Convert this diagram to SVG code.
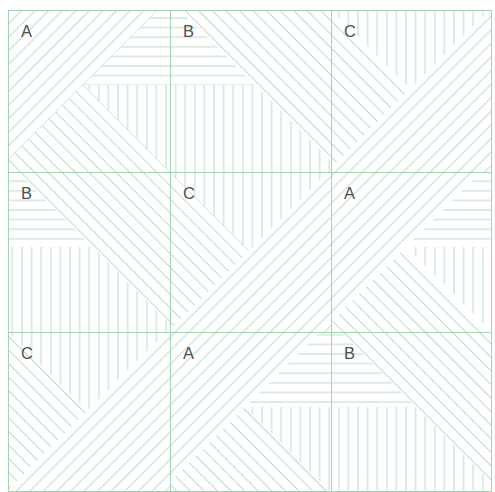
<svg xmlns="http://www.w3.org/2000/svg" width="495" height="492" viewBox="0 0 495 492">
<style>
.hl{stroke:#b6dac2;stroke-width:0.95;fill:none}
.h{fill:url(#ph)}
.v{fill:url(#pv)}
.d1{fill:url(#pd1)}
.d2{fill:url(#pd2)}
.grid line{stroke:#a6d2b4;stroke-width:1}
.lbl{font-family:"Liberation Sans",Arial,sans-serif;font-size:16.5px;fill:#505050}
</style>
<defs>
<pattern id="ph" patternUnits="userSpaceOnUse" x="0" y="13.2" width="9.6" height="9.6"><line class="hl" x1="-1" y1="4.8" x2="10.6" y2="4.8"/></pattern>
<pattern id="pv" patternUnits="userSpaceOnUse" x="-2" y="0" width="9.6" height="9.6"><line class="hl" x1="4.8" y1="-1" x2="4.8" y2="10.6"/></pattern>
<pattern id="pd1" patternUnits="userSpaceOnUse" width="9.6" height="9.6" patternTransform="rotate(45)"><line class="hl" x1="3.6" y1="-1" x2="3.6" y2="10.6"/></pattern>
<pattern id="pd2" patternUnits="userSpaceOnUse" width="9.6" height="9.6" patternTransform="rotate(45)"><line class="hl" x1="-1" y1="1.4" x2="10.6" y2="1.4"/></pattern>
</defs>
<rect width="495" height="492" fill="#ffffff"/>

<g id="tile-A-r1c1">
<polygon class="d1" points="8,10 158,10 8,160"/>
<polygon class="h" points="158,10 170,10 170,85 83,85"/>
<polygon class="v" points="83,85 170,85 170,172"/>
<polygon class="d2" points="8,160 83,85 170,172 8,172"/>
<text class="lbl" x="21" y="37">A</text>
</g>
<g id="tile-B-r1c2">
<polygon class="d2" points="180,10 331,10 331,161"/>
<polygon class="h" points="170,10 180,10 255,85 170,85"/>
<polygon class="v" points="170,85 255,85 331,161 331,172 170,172"/>
<text class="lbl" x="183" y="37">B</text>
</g>
<g id="tile-C-r1c3">
<polygon class="v" points="331,10 489,10 410,89"/>
<polygon class="d2" points="331,10 410,89 331,168"/>
<polygon class="d1" points="489,10 492,10 492,172 331,172 331,168"/>
<text class="lbl" x="344" y="37">C</text>
</g>

<g id="tile-B-r2c1">
<polygon class="d2" points="18,172 170,172 170,324"/>
<polygon class="h" points="8,172 18,172 93,247 8,247"/>
<polygon class="v" points="8,247 93,247 170,324 170,332 8,332"/>
<text class="lbl" x="21" y="199">B</text>
</g>
<g id="tile-C-r2c2">
<polygon class="v" points="170,172 328,172 249,251"/>
<polygon class="d2" points="170,172 249,251 170,330"/>
<polygon class="d1" points="328,172 331,172 331,332 170,332 170,330"/>
<text class="lbl" x="183" y="199">C</text>
</g>
<g id="tile-A-r2c3">
<polygon class="d1" points="331,172 481,172 331,322"/>
<polygon class="h" points="481,172 492,172 492,247 406,247"/>
<polygon class="v" points="406,247 492,247 492,332"/>
<polygon class="d2" points="331,322 406,247 492,332 331,332"/>
<text class="lbl" x="344" y="199">A</text>
</g>

<g id="tile-C-r3c1">
<polygon class="v" points="8,332 166,332 87,411"/>
<polygon class="d2" points="8,332 87,411 8,490"/>
<polygon class="d1" points="166,332 170,332 170,493 8,493 8,490"/>
<text class="lbl" x="21" y="359">C</text>
</g>
<g id="tile-A-r3c2">
<polygon class="d1" points="170,332 320,332 170,482"/>
<polygon class="h" points="320,332 331,332 331,407 245,407"/>
<polygon class="v" points="245,407 331,407 331,493"/>
<polygon class="d2" points="170,482 245,407 331,493 170,493"/>
<text class="lbl" x="183" y="359">A</text>
</g>
<g id="tile-B-r3c3">
<polygon class="d2" points="341,332 492,332 492,483"/>
<polygon class="h" points="331,332 341,332 416,407 331,407"/>
<polygon class="v" points="331,407 416,407 492,483 492,493 331,493"/>
<text class="lbl" x="344" y="359">B</text>
</g>

<g id="connectors" class="grid">
<line x1="8.5" y1="10" x2="8.5" y2="493"/>
<line x1="170.5" y1="10" x2="170.5" y2="493"/>
<line x1="331.5" y1="10" x2="331.5" y2="493"/>
<line x1="491.5" y1="10" x2="491.5" y2="493"/>
<line x1="8" y1="10.5" x2="492" y2="10.5"/>
<line x1="8" y1="172.5" x2="492" y2="172.5"/>
<line x1="8" y1="332.5" x2="492" y2="332.5"/>
<line x1="8" y1="491.5" x2="492" y2="491.5"/>
</g>
</svg>
